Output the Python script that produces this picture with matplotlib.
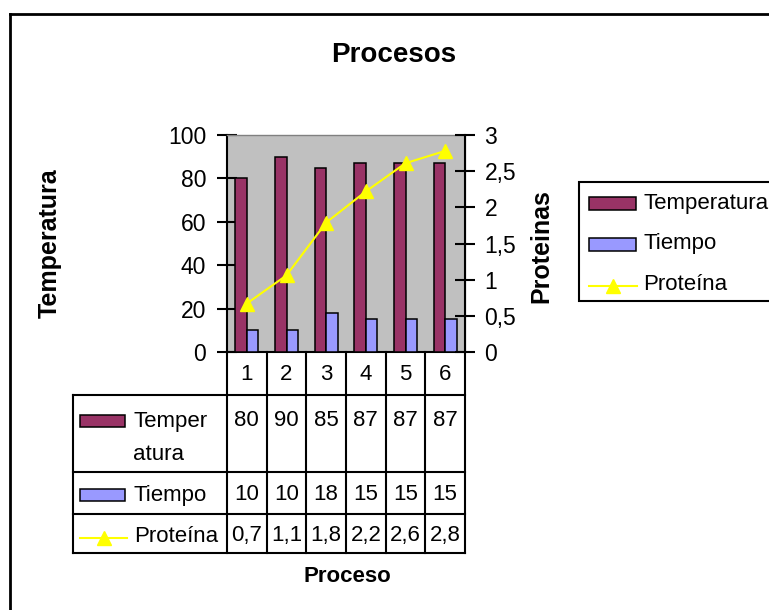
import matplotlib
matplotlib.use("Agg")
import matplotlib.pyplot as plt
from matplotlib.transforms import Affine2D, blended_transform_factory
from matplotlib.patches import Rectangle
from matplotlib.lines import Line2D
from matplotlib.ticker import FuncFormatter, MultipleLocator

plt.rcParams['font.family'] = ['Liberation Sans', 'DejaVu Sans']

# ---- data ----
categories = ['1', '2', '3', '4', '5', '6']
temperatura = [80, 90, 85, 87, 87, 87]
tiempo = [10, 10, 18, 15, 15, 15]
proteina = [0.67, 1.06, 1.79, 2.22, 2.61, 2.78]
series_names = ['Temperatura', 'Tiempo', 'Proteína']
title = 'Procesos'
xlabel = 'Proceso'
ylabel_left = 'Temperatura'
ylabel_right = 'Proteinas'

C_TEMP = '#993366'
C_TIEM = '#9999FF'
C_PROT = '#FFFF00'

W, H = 769, 610
fig = plt.figure(figsize=(W / 100, H / 100), dpi=100)
px = Affine2D().scale(1 / W, -1 / H).translate(0, 1) + fig.transFigure

# axes placement (pixels)
AX_L, AX_R, AX_T, AX_B = 227, 465, 135, 352
ax = fig.add_axes([AX_L / W, 1 - AX_B / H, (AX_R - AX_L) / W, (AX_B - AX_T) / H])
ax.set_facecolor('#C0C0C0')

n = len(categories)
xs = list(range(n))
bw = 0.29
ax.bar([x - bw / 2 for x in xs], temperatura, width=bw, color=C_TEMP,
       edgecolor='black', linewidth=1.1, zorder=3)
ax.bar([x + bw / 2 for x in xs], tiempo, width=bw, color=C_TIEM,
       edgecolor='black', linewidth=1.1, zorder=3)
ax.set_xlim(-0.5, n - 0.5)
ax.set_ylim(0, 100)
ax.yaxis.set_major_locator(MultipleLocator(20))
ax.set_xticks([])
ax.tick_params(axis='y', direction='inout', length=14, width=1.5, labelsize=16.5, pad=8)
for s in ['left', 'bottom']:
    ax.spines[s].set_linewidth(1.5)
    ax.spines[s].set_color('black')
ax.spines['top'].set_color('#808080')
ax.spines['top'].set_linewidth(1)

ax2 = ax.twinx()
ax2.plot(xs, proteina, color=C_PROT, linewidth=1.5, marker='^', markersize=10,
         markerfacecolor=C_PROT, markeredgecolor=C_PROT, zorder=5)
ax2.set_ylim(0, 3)
ax2.yaxis.set_major_locator(MultipleLocator(0.5))
ax2.yaxis.set_major_formatter(FuncFormatter(
    lambda v, p: ('%g' % v).replace('.', ',')))
ax2.tick_params(axis='y', direction='inout', length=14, width=1.5, labelsize=16.5, pad=7)
ax2.spines['right'].set_linewidth(1.5)
ax2.spines['right'].set_color('black')
ax2.spines['top'].set_visible(False)
ax2.spines['left'].set_visible(False)
ax2.spines['bottom'].set_visible(False)

# ---- outer chart border ----
fig.add_artist(Line2D([10, 10], [14, 700], transform=px, color='black', lw=2))
fig.add_artist(Line2D([10, 800], [14, 14], transform=px, color='black', lw=2))

# ---- titles ----
fig.text(394, 55, title, transform=px, ha='center', va='center',
         fontsize=20, fontweight='bold')
fig.text(50, 243, ylabel_left, transform=px, ha='center', va='center',
         fontsize=18, fontweight='bold', rotation=90)
fig.text(541, 246, ylabel_right, transform=px, ha='center', va='center',
         fontsize=18, fontweight='bold', rotation=90)
fig.text(347, 577, xlabel, transform=px, ha='center', va='center',
         fontsize=16, fontweight='bold')

# ---- data table ----
bt = blended_transform_factory(ax.transData, px)
TAB_L = 73
row_y = [352, 395, 472, 514, 553]
lw_t = 1.5
# column lines
for k in range(n + 1):
    fig.add_artist(Line2D([k - 0.5, k - 0.5], [row_y[0], row_y[-1]], transform=bt,
                          color='black', lw=lw_t))
# horizontal lines
for y in row_y[1:]:
    fig.add_artist(Line2D([TAB_L, AX_R], [y, y], transform=px, color='black', lw=lw_t))
fig.add_artist(Line2D([TAB_L, TAB_L], [row_y[1], row_y[-1]], transform=px,
                      color='black', lw=lw_t))
# header
for i, c in enumerate(categories):
    fig.text(i, 374, c, transform=bt, ha='center', va='center', fontsize=16)
# values
for i in range(n):
    fig.text(i, 420, str(temperatura[i]), transform=bt, ha='center', va='center', fontsize=16)
    fig.text(i, 494, str(tiempo[i]), transform=bt, ha='center', va='center', fontsize=16)
    fig.text(i, 535, ('%.1f' % proteina[i]).replace('.', ','), transform=bt,
             ha='center', va='center', fontsize=16)
# row keys
fig.add_artist(Rectangle((80, 415), 45, 12, transform=px, facecolor=C_TEMP,
                         edgecolor='black', lw=1.1))
fig.text(133, 422, 'Temper', transform=px, ha='left', va='center', fontsize=16)
fig.text(133, 454, 'atura', transform=px, ha='left', va='center', fontsize=16)
fig.add_artist(Rectangle((80, 489), 45, 12, transform=px, facecolor=C_TIEM,
                         edgecolor='black', lw=1.1))
fig.text(133, 495, series_names[1], transform=px, ha='left', va='center', fontsize=16)
fig.add_artist(Line2D([80, 127], [538, 538], transform=px, color=C_PROT, lw=1.5))
fig.add_artist(Line2D([103.5], [538], transform=px, color=C_PROT, lw=0,
                      marker='^', markersize=10, markerfacecolor=C_PROT,
                      markeredgecolor=C_PROT))
fig.text(134, 537, series_names[2], transform=px, ha='left', va='center', fontsize=16)

# ---- legend ----
fig.add_artist(Rectangle((579, 182), 260, 119, transform=px, facecolor='white',
                         edgecolor='black', lw=1.5))
fig.add_artist(Rectangle((589, 197), 47, 13, transform=px, facecolor=C_TEMP,
                         edgecolor='black', lw=1.1))
fig.text(643, 204, series_names[0], transform=px, ha='left', va='center', fontsize=16)
fig.add_artist(Rectangle((589, 238), 47, 13, transform=px, facecolor=C_TIEM,
                         edgecolor='black', lw=1.1))
fig.text(643, 244, series_names[1], transform=px, ha='left', va='center', fontsize=16)
fig.add_artist(Line2D([589, 637], [286, 286], transform=px, color=C_PROT, lw=1.5))
fig.add_artist(Line2D([613], [286], transform=px, lw=0, marker='^', markersize=10,
                      markerfacecolor=C_PROT, markeredgecolor=C_PROT))
fig.text(643, 284, series_names[2], transform=px, ha='left', va='center', fontsize=16)

fig.savefig('out.png', dpi=100)
